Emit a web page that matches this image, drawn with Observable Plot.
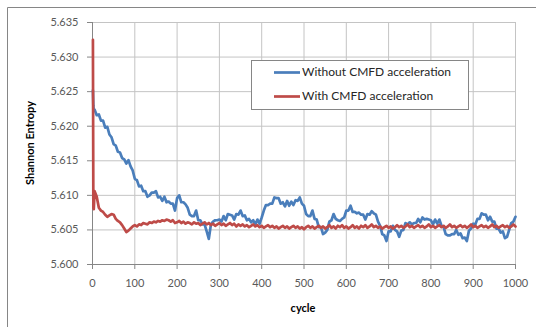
<!DOCTYPE html>
<html>
<head>
<meta charset="utf-8">
<script src="https://cdn.jsdelivr.net/npm/d3@7"></script>
<script src="https://cdn.jsdelivr.net/npm/@observablehq/plot@0.6"></script>
<style>
  html, body { margin: 0; padding: 0; background: #fff; }
  #chart { position: relative; width: 536px; height: 327px; overflow: hidden; }
</style>
</head>
<body>
<div id="chart"></div>
<script>
// ---- data ----
const seriesNames = ["Without CMFD acceleration", "With CMFD acceleration"];
const seriesColors = ["#4a7ebb", "#be4b48"];
const xTicks = [0, 100, 200, 300, 400, 500, 600, 700, 800, 900, 1000];
const yTicks = [5.600, 5.605, 5.610, 5.615, 5.620, 5.625, 5.630, 5.635];
const xLabel = "cycle";
const yLabel = "Shannon Entropy";

const cycles = [1, 2, 3, ...d3.range(5, 1001, 5)];

const withoutCMFD = [
  5.6252, 5.6230, 5.6222,
  // 5..50
  5.6224, 5.6216, 5.6217, 5.6208, 5.6208, 5.6198, 5.6199, 5.6188, 5.6184, 5.6174,
  // 55..100
  5.6172, 5.6163, 5.6162, 5.6154, 5.6152, 5.6146, 5.6151, 5.6142, 5.6136, 5.6124,
  // 105..150
  5.6122, 5.6113, 5.6114, 5.6106, 5.6106, 5.6098, 5.6100, 5.6104, 5.6104, 5.6106,
  // 155..200
  5.6097, 5.6098, 5.6092, 5.6098, 5.6090, 5.6091, 5.6088, 5.6088, 5.6078, 5.6096,
  // 205..250
  5.6100, 5.6090, 5.6090, 5.6087, 5.6082, 5.6072, 5.6070, 5.6070, 5.6078, 5.6064,
  // 255..300
  5.6064, 5.6058, 5.6058, 5.6048, 5.6037, 5.6058, 5.6062, 5.6064, 5.6064, 5.6065,
  // 305..350
  5.6062, 5.6070, 5.6064, 5.6073, 5.6072, 5.6071, 5.6065, 5.6073, 5.6072, 5.6078,
  // 355..400
  5.6070, 5.6071, 5.6064, 5.6066, 5.6061, 5.6064, 5.6058, 5.6065, 5.6059, 5.6068,
  // 405..450
  5.6078, 5.6086, 5.6086, 5.6088, 5.6088, 5.6097, 5.6096, 5.6096, 5.6088, 5.6090,
  // 455..500
  5.6084, 5.6092, 5.6085, 5.6091, 5.6086, 5.6093, 5.6092, 5.6097, 5.6088, 5.6085,
  // 505..550
  5.6073, 5.6070, 5.6070, 5.6078, 5.6066, 5.6065, 5.6054, 5.6054, 5.6044, 5.6046,
  // 555..600
  5.6050, 5.6062, 5.6064, 5.6073, 5.6066, 5.6064, 5.6063, 5.6066, 5.6068, 5.6078,
  // 605..650
  5.6078, 5.6085, 5.6076, 5.6076, 5.6074, 5.6075, 5.6072, 5.6072, 5.6065, 5.6073,
  // 655..700
  5.6072, 5.6077, 5.6074, 5.6072, 5.6062, 5.6056, 5.6044, 5.6042, 5.6034, 5.6048,
  // 705..750
  5.6048, 5.6056, 5.6050, 5.6048, 5.6040, 5.6049, 5.6050, 5.6060, 5.6058, 5.6061,
  // 755..800
  5.6058, 5.6060, 5.6060, 5.6066, 5.6061, 5.6068, 5.6065, 5.6066, 5.6065, 5.6064,
  // 805..850
  5.6058, 5.6065, 5.6059, 5.6065, 5.6056, 5.6054, 5.6044, 5.6042, 5.6042, 5.6044,
  // 855..900
  5.6044, 5.6050, 5.6043, 5.6045, 5.6038, 5.6039, 5.6034, 5.6049, 5.6052, 5.6059,
  // 905..950
  5.6058, 5.6066, 5.6066, 5.6074, 5.6072, 5.6072, 5.6064, 5.6069, 5.6062, 5.6062,
  // 955..1000
  5.6052, 5.6052, 5.6046, 5.6048, 5.6038, 5.6040, 5.6050, 5.6060, 5.6062, 5.6069
];

const withCMFD = [
  5.6325, 5.6082, 5.6080,
  // 5..50
  5.6106, 5.6098, 5.6082, 5.6078, 5.6076, 5.6072, 5.6069, 5.6071, 5.6073, 5.6072,
  // 55..100
  5.6066, 5.6063, 5.6061, 5.6057, 5.6052, 5.6047, 5.6049, 5.6052, 5.6055, 5.6057,
  // 105..150
  5.6055, 5.6058, 5.6057, 5.6060, 5.6059, 5.6058, 5.6061, 5.6060, 5.6062, 5.6061,
  // 155..200
  5.6063, 5.6062, 5.6064, 5.6063, 5.6065, 5.6064, 5.6062, 5.6064, 5.6060, 5.6061,
  // 205..250
  5.6063, 5.6060, 5.6062, 5.6059, 5.6061, 5.6060, 5.6058, 5.6061, 5.6059, 5.6060,
  // 255..300
  5.6057, 5.6059, 5.6061, 5.6058, 5.6060, 5.6057, 5.6059, 5.6056, 5.6058, 5.6060,
  // 305..350
  5.6057, 5.6059, 5.6056, 5.6058, 5.6060, 5.6057, 5.6059, 5.6055, 5.6058, 5.6056,
  // 355..400
  5.6058, 5.6055, 5.6057, 5.6054, 5.6056, 5.6058, 5.6055, 5.6057, 5.6054, 5.6056,
  // 405..450
  5.6053, 5.6055, 5.6057, 5.6054, 5.6056, 5.6053, 5.6055, 5.6052, 5.6054, 5.6056,
  // 455..500
  5.6053, 5.6055, 5.6052, 5.6054, 5.6056, 5.6053, 5.6055, 5.6052, 5.6054, 5.6051,
  // 505..550
  5.6054, 5.6056, 5.6053, 5.6055, 5.6052, 5.6054, 5.6056, 5.6053, 5.6055, 5.6052,
  // 555..600
  5.6054, 5.6057, 5.6053, 5.6055, 5.6052, 5.6056, 5.6054, 5.6057, 5.6053, 5.6055,
  // 605..650
  5.6052, 5.6054, 5.6057, 5.6053, 5.6055, 5.6052, 5.6056, 5.6054, 5.6057, 5.6053,
  // 655..700
  5.6055, 5.6058, 5.6054, 5.6056, 5.6053, 5.6055, 5.6052, 5.6054, 5.6056, 5.6053,
  // 705..750
  5.6055, 5.6052, 5.6054, 5.6057, 5.6054, 5.6056, 5.6053, 5.6055, 5.6058, 5.6054,
  // 755..800
  5.6056, 5.6053, 5.6055, 5.6057, 5.6054, 5.6056, 5.6053, 5.6055, 5.6058, 5.6054,
  // 805..850
  5.6056, 5.6053, 5.6055, 5.6057, 5.6054, 5.6056, 5.6053, 5.6055, 5.6058, 5.6054,
  // 855..900
  5.6056, 5.6053, 5.6055, 5.6057, 5.6054, 5.6056, 5.6053, 5.6055, 5.6058, 5.6054,
  // 905..950
  5.6056, 5.6053, 5.6055, 5.6057, 5.6054, 5.6056, 5.6053, 5.6055, 5.6058, 5.6054,
  // 955..1000
  5.6056, 5.6053, 5.6055, 5.6057, 5.6054, 5.6056, 5.6053, 5.6055, 5.6058, 5.6055
];

// ---- build table ----
const rows = [];
[withoutCMFD, withCMFD].forEach((vals, s) => {
  vals.forEach((v, i) => rows.push({ series: seriesNames[s], cycle: cycles[i], value: v }));
});

const FONT = "Lato, 'Open Sans', sans-serif";
const axisGray = "#868686";
const gridGray = "#c4c4c4";

const chart = Plot.plot({
  width: 536,
  height: 327,
  marginLeft: 92,
  marginRight: 21,
  marginTop: 22,
  marginBottom: 63,
  style: { fontFamily: FONT, fontSize: "11px", color: "#595959", background: "white", overflow: "visible" },
  x: { domain: [0, 1000] },
  y: { domain: [5.600, 5.635] },
  color: { domain: seriesNames, range: seriesColors },
  marks: [
    Plot.gridX(xTicks.filter(d => d > 0), { stroke: gridGray, strokeOpacity: 1 }),
    Plot.gridY(yTicks.filter(d => d > 5.6), { stroke: gridGray, strokeOpacity: 1 }),
    Plot.ruleX([0], { stroke: axisGray }),
    Plot.ruleY([5.6], { stroke: axisGray }),
    Plot.axisX({ ticks: xTicks, tickSize: 5, tickPadding: 10, stroke: axisGray, fill: "#595959", label: null, tickFormat: d => String(d) }),
    Plot.axisY({ ticks: yTicks, tickSize: 5, tickPadding: 9, stroke: axisGray, fill: "#595959", label: null, tickFormat: d3.format(".3f") }),
    Plot.line(rows, { x: "cycle", y: "value", z: "series", stroke: "series", strokeWidth: 2.7, curve: "linear" })
  ]
});

document.getElementById("chart").appendChild(chart);

const svg = d3.select(chart);

// outer chart-area border (only left & top edges are visible in the frame)
svg.append("path")
  .attr("d", "M7.5,327 L7.5,7.5 L540,7.5")
  .attr("fill", "none")
  .attr("stroke", axisGray)
  .attr("stroke-width", 1);

// axis titles
svg.append("text")
  .attr("transform", "translate(31,143) rotate(-90)")
  .attr("text-anchor", "middle")
  .attr("dominant-baseline", "middle")
  .attr("font-family", FONT)
  .attr("font-size", 11)
  .attr("font-weight", "bold")
  .attr("fill", "#000")
  .text(yLabel);

svg.append("text")
  .attr("x", 303)
  .attr("y", 309)
  .attr("text-anchor", "middle")
  .attr("dominant-baseline", "middle")
  .attr("font-family", FONT)
  .attr("font-size", 11)
  .attr("font-weight", "bold")
  .attr("fill", "#000")
  .text(xLabel);

// legend
const lg = svg.append("g");
lg.append("rect")
  .attr("x", 251.5).attr("y", 60.5)
  .attr("width", 217).attr("height", 49)
  .attr("fill", "white")
  .attr("stroke", axisGray);
seriesNames.forEach((name, i) => {
  const yy = 72.5 + i * 24;
  lg.append("line")
    .attr("x1", 274).attr("x2", 300)
    .attr("y1", yy).attr("y2", yy)
    .attr("stroke", seriesColors[i])
    .attr("stroke-width", 2.7);
  lg.append("text")
    .attr("x", 302).attr("y", yy)
    .attr("text-anchor", "start")
    .attr("dominant-baseline", "middle")
    .attr("font-family", FONT)
    .attr("font-size", 12)
    .attr("fill", "#262626")
    .text(name);
});
</script>
</body>
</html>
